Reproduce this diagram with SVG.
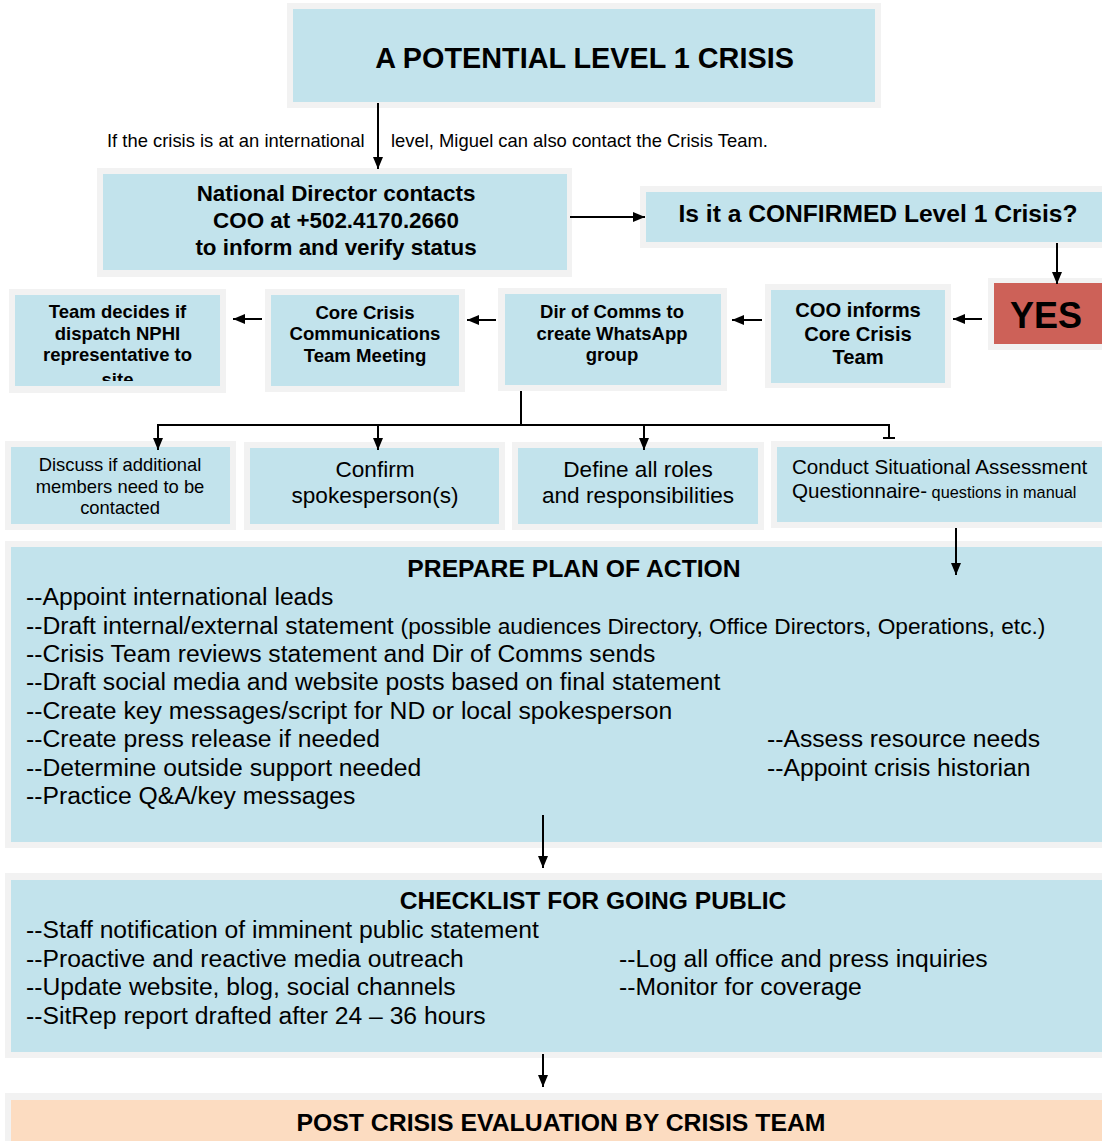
<svg xmlns="http://www.w3.org/2000/svg" width="1102" height="1141" viewBox="0 0 1102 1141">
<defs>
<marker id="ah" markerUnits="userSpaceOnUse" markerWidth="12" markerHeight="10" refX="12" refY="5" orient="auto">
<path d="M0,0 L12,5 L0,10 z" fill="#000"/>
</marker>
<clipPath id="clipTeam"><rect x="15" y="295" width="205" height="86"/></clipPath>
</defs>
<style>
.outer{fill:#f2f2f2}
.inner{fill:#c2e3ec}
.t{font-family:"Liberation Sans",Arial,sans-serif;fill:#000}
.b{font-weight:bold}
.c{text-anchor:middle}
.ln{stroke:#000;stroke-width:2;fill:none}
.arr{stroke:#000;stroke-width:2;fill:none;marker-end:url(#ah)}
</style>
<rect width="1102" height="1141" fill="#fff"/>

<g id="n-potential">
<rect class="outer" x="287" y="3" width="594" height="105"/>
<rect class="inner" x="293" y="9" width="582" height="93"/>
<text class="t b c" x="584.5" y="68" font-size="28.8">A POTENTIAL LEVEL 1 CRISIS</text>
</g>

<g id="note">
<text class="t" x="107" y="147" font-size="18.4">If the crisis is at an international</text>
<text class="t" x="391" y="147" font-size="18.4">level, Miguel can also contact the Crisis Team.</text>
</g>

<g id="n-national">
<rect class="outer" x="97" y="168" width="475" height="109"/>
<rect class="inner" x="103" y="174" width="464" height="96"/>
<text class="t b c" font-size="22.4"><tspan x="336" y="201">National Director contacts</tspan><tspan x="336" y="228">COO at +502.4170.2660</tspan><tspan x="336" y="255">to inform and verify status</tspan></text>
</g>

<g id="n-confirmed">
<rect class="outer" x="640" y="186" width="462" height="62"/>
<rect class="inner" x="646" y="192" width="456" height="50"/>
<text class="t b c" x="878" y="222" font-size="24.6">Is it a CONFIRMED Level 1 Crisis?</text>
</g>

<g id="n-yes">
<rect class="outer" x="988" y="278" width="114" height="72"/>
<rect x="994" y="283" width="108" height="61" fill="#cd6158"/>
<text class="t b c" x="1046" y="328" font-size="36">YES</text>
</g>

<g id="n-coo">
<rect class="outer" x="765" y="284" width="186" height="104"/>
<rect class="inner" x="771" y="290" width="174" height="93"/>
<text class="t b c" font-size="20.2"><tspan x="858" y="317">COO informs</tspan><tspan x="858" y="341">Core Crisis</tspan><tspan x="858" y="364">Team</tspan></text>
</g>

<g id="n-dir">
<rect class="outer" x="498" y="288" width="229" height="103"/>
<rect class="inner" x="505" y="294" width="216" height="91"/>
<text class="t b c" font-size="18.5"><tspan x="612" y="318">Dir of Comms to</tspan><tspan x="612" y="340">create WhatsApp</tspan><tspan x="612" y="361">group</tspan></text>
</g>

<g id="n-core">
<rect class="outer" x="265" y="289" width="200" height="103"/>
<rect class="inner" x="271" y="295" width="188" height="91"/>
<text class="t b c" font-size="18.6"><tspan x="365" y="319">Core Crisis</tspan><tspan x="365" y="340">Communications</tspan><tspan x="365" y="362">Team Meeting</tspan></text>
</g>

<g id="n-team">
<rect class="outer" x="9" y="289" width="217" height="104"/>
<rect class="inner" x="15" y="295" width="205" height="91"/>
<text class="t b c" font-size="18.5" clip-path="url(#clipTeam)"><tspan x="117.5" y="318">Team decides if</tspan><tspan x="117.5" y="340">dispatch NPHI</tspan><tspan x="117.5" y="361">representative to</tspan><tspan x="117.5" y="386">site</tspan></text>
</g>

<g id="n-discuss">
<rect class="outer" x="5" y="441" width="231" height="89"/>
<rect class="inner" x="11" y="447" width="219" height="77"/>
<text class="t c" font-size="18.4"><tspan x="120" y="471">Discuss if additional</tspan><tspan x="120" y="493">members need to be</tspan><tspan x="120" y="514">contacted</tspan></text>
</g>

<g id="n-confirm">
<rect class="outer" x="244" y="442" width="261" height="88"/>
<rect class="inner" x="250" y="448" width="249" height="76"/>
<text class="t c" font-size="22.6"><tspan x="375" y="477">Confirm</tspan><tspan x="375" y="503">spokesperson(s)</tspan></text>
</g>

<g id="n-define">
<rect class="outer" x="512" y="442" width="252" height="88"/>
<rect class="inner" x="518" y="448" width="240" height="76"/>
<text class="t c" font-size="22.6"><tspan x="638" y="477">Define all roles</tspan><tspan x="638" y="503">and responsibilities</tspan></text>
</g>

<g id="n-conduct">
<rect class="outer" x="771" y="441" width="331" height="87"/>
<rect class="inner" x="777" y="447" width="325" height="75"/>
<text class="t" x="792" y="474" font-size="20.6">Conduct Situational Assessment</text>
<text class="t" x="792" y="498" font-size="20.6">Questionnaire-<tspan font-size="16.3"> questions in manual</tspan></text>
</g>

<g id="n-plan">
<rect class="outer" x="5" y="541" width="1097" height="307"/>
<rect class="inner" x="11" y="547" width="1091" height="295"/>
<text class="t b c" x="574" y="577" font-size="24.7">PREPARE PLAN OF ACTION</text>
<g class="t" font-size="24.7">
<text x="26" y="605">--Appoint international leads</text>
<text x="26" y="634">--Draft internal/external statement <tspan font-size="22.7">(possible audiences Directory, Office Directors, Operations, etc.)</tspan></text>
<text x="26" y="662">--Crisis Team reviews statement and Dir of Comms sends</text>
<text x="26" y="690">--Draft social media and website posts based on final statement</text>
<text x="26" y="719">--Create key messages/script for ND or local spokesperson</text>
<text x="26" y="747">--Create press release if needed</text>
<text x="26" y="776">--Determine outside support needed</text>
<text x="26" y="804">--Practice Q&amp;A/key messages</text>
<text x="767" y="747">--Assess resource needs</text>
<text x="767" y="776">--Appoint crisis historian</text>
</g>
</g>

<g id="n-checklist">
<rect class="outer" x="5" y="873" width="1097" height="185"/>
<rect class="inner" x="11" y="880" width="1091" height="172"/>
<text class="t b c" x="593" y="909" font-size="24.6">CHECKLIST FOR GOING PUBLIC</text>
<g class="t" font-size="24.7">
<text x="26" y="938">--Staff notification of imminent public statement</text>
<text x="26" y="967">--Proactive and reactive media outreach</text>
<text x="26" y="995">--Update website, blog, social channels</text>
<text x="26" y="1024">--SitRep report drafted after 24 – 36 hours</text>
<text x="619" y="967">--Log all office and press inquiries</text>
<text x="619" y="995">--Monitor for coverage</text>
</g>
</g>

<g id="n-post">
<rect class="outer" x="5" y="1093" width="1097" height="48"/>
<rect x="11" y="1100" width="1091" height="41" fill="#fcdcc1"/>
<text class="t b c" x="561" y="1131" font-size="24.8">POST CRISIS EVALUATION BY CRISIS TEAM</text>
</g>

<g id="connectors">
<line class="arr" x1="378" y1="103" x2="378" y2="169"/>
<line class="arr" x1="570" y1="217" x2="645" y2="217"/>
<line class="arr" x1="1057" y1="243" x2="1057" y2="284"/>
<line class="arr" x1="982" y1="319" x2="953" y2="319"/>
<line class="arr" x1="762" y1="320" x2="732" y2="320"/>
<line class="arr" x1="496" y1="320" x2="467" y2="320"/>
<line class="arr" x1="262" y1="319" x2="233" y2="319"/>
<path class="ln" d="M521,391 V425 M158,425 H889 V438 M883,438 H895"/>
<line class="arr" x1="158" y1="424" x2="158" y2="450"/>
<line class="arr" x1="378" y1="424" x2="378" y2="450"/>
<line class="arr" x1="644" y1="424" x2="644" y2="450"/>
<line class="arr" x1="956" y1="528" x2="956" y2="575"/>
<line class="arr" x1="543" y1="815" x2="543" y2="868"/>
<line class="arr" x1="543" y1="1054" x2="543" y2="1087"/>
</g>
</svg>
